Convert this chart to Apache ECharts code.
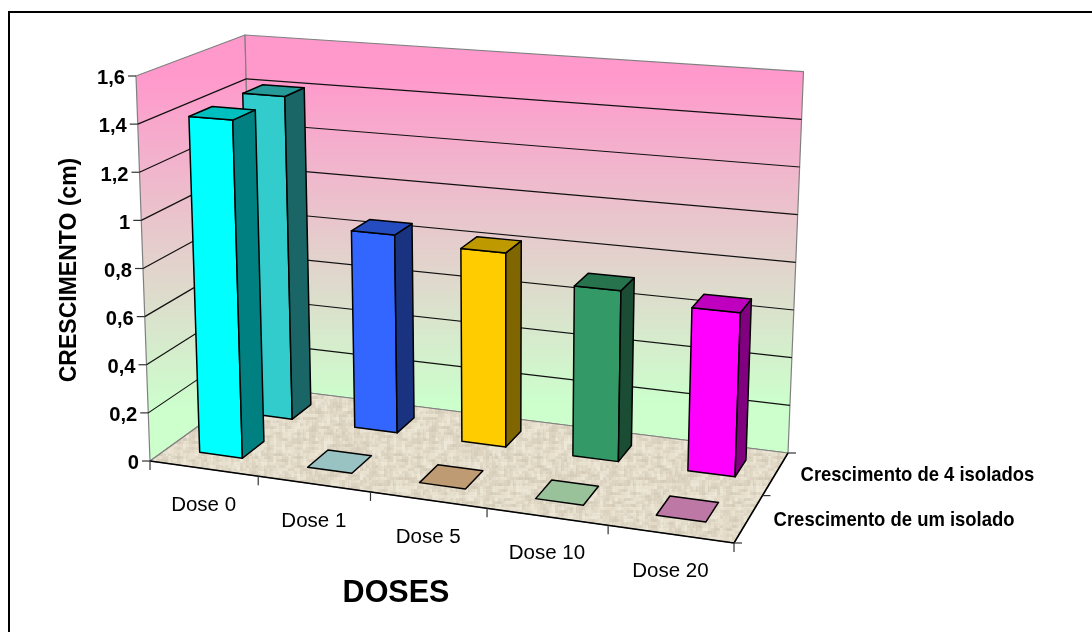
<!DOCTYPE html>
<html><head><meta charset="utf-8">
<style>html,body{margin:0;padding:0;background:#fff}#c{width:1092px;height:632px}</style>
<script src="https://cdn.jsdelivr.net/npm/echarts@6/dist/echarts.min.js"></script>
</head><body><div id="c"></div>
<script>
const doses = ['Dose 0','Dose 1','Dose 5','Dose 10','Dose 20'];
const seriesNames = ['Crescimento de um isolado','Crescimento de 4 isolados'];
const valuesOne = [1.41,0,0,0,0];
const valuesFour = [1.41,0.85,0.82,0.71,0.67];
const yTicks = [0,0.2,0.4,0.6,0.8,1,1.2,1.4,1.6];
const faceOne = ['#00FFFF','#99C3C3','#BF9B73','#99C29A','#BD78A5'];
const faceFour = ['#33CCCC','#3366FF','#FFCC00','#339966','#FF00FF'];

// 3D box of the chart projected on the page
const FL=[150,461],FR=[734,543],BR=[788,453],BL=[254,386];
const TFL=[136,76],TBR=[803.5,71.7],TBL=[245,35];
const GRID={left:100,top:40,width:600,height:400};
const cross=(a,b)=>[a[1]*b[2]-a[2]*b[1],a[2]*b[0]-a[0]*b[2],a[0]*b[1]-a[1]*b[0]];
const H=p=>[p[0],p[1],1];
const meet=(a,b,c,d)=>cross(cross(H(a),H(b)),cross(H(c),H(d)));
const V1=meet(FL,FR,BL,BR), V2=meet(FL,BL,FR,BR);
function meetV(p,v,q,w){const r=cross(cross(H(p),v),cross(H(q),w));return [r[0]/r[2],r[1]/r[2]];}
const TFR=meetV(TFL,V1,TBR,V2);

function quad(a,b,c,d){ // unit square -> quad (0,0)=a (1,0)=b (1,1)=c (0,1)=d
  const dx1=b[0]-c[0],dx2=d[0]-c[0],sx=a[0]-b[0]+c[0]-d[0];
  const dy1=b[1]-c[1],dy2=d[1]-c[1],sy=a[1]-b[1]+c[1]-d[1];
  const det=dx1*dy2-dx2*dy1;
  const g=(sx*dy2-dx2*sy)/det,h=(dx1*sy-sx*dy1)/det;
  const A=b[0]-a[0]+g*b[0],B=d[0]-a[0]+h*d[0],D=b[1]-a[1]+g*b[1],E=d[1]-a[1]+h*d[1];
  return (u,v)=>{const w=g*u+h*v+1;return [(A*u+B*v+a[0])/w,(D*u+E*v+a[1])/w];};
}
const floorQ=quad(FL,FR,BR,BL), topQ=quad(TFL,TFR,TBR,TBL);
function P(u,d,h){const a=floorQ(u,d),b=topQ(u,d);return [a[0]+(b[0]-a[0])*h,a[1]+(b[1]-a[1])*h];}
function norm(api,cat,val){ // library scales -> box fractions
  const p=api.coord([cat,val]);
  return [(p[0]-GRID.left)/GRID.width,(GRID.top+GRID.height-p[1])/GRID.height];
}
const INK='#000';
function poly(pts,fill,stroke,lw){return {type:'polygon',shape:{points:pts},style:{fill:fill,stroke:stroke||INK,lineWidth:lw==null?1.5:lw,lineJoin:'round'},silent:true};}
function line(a,b,c,lw){return {type:'line',shape:{x1:a[0],y1:a[1],x2:b[0],y2:b[1]},style:{stroke:c,lineWidth:lw},silent:true};}
function text(x,y,s,font,align,rot,sx){return {type:'text',x:x,y:y,rotation:rot||0,scaleX:sx||1,style:{text:s,font:font,fill:'#000',align:align,verticalAlign:'middle'},silent:true};}
function shade(hex,f){const n=parseInt(hex.slice(1),16);const c=[n>>16,(n>>8)&255,n&255].map(v=>Math.round(v*f));return 'rgb('+c.join(',')+')';}

// woven paper look of the floor
function floorPattern(){
  const c=document.createElement('canvas');c.width=c.height=120;
  const g=c.getContext('2d');g.fillStyle='#E3DAC8';g.fillRect(0,0,120,120);
  for(let y=0;y<120;y+=3){for(let x=0;x<120;x+=3){
    const s=Math.sin(x*12.9898+y*78.233)*43758.5453;const f=s-Math.floor(s);
    g.fillStyle=f<0.33?'rgba(196,185,163,0.22)':(f>0.66?'rgba(246,241,230,0.3)':'rgba(0,0,0,0)');
    g.fillRect(x,y,f<0.5?7:3,f<0.5?3:7);
  }}
  return c;
}
const floorImg=floorPattern();

function backdrop(params,api){
  const wallFill=new echarts.graphic.LinearGradient(0,0,0,1,[{offset:0,color:'#FF99CC'},{offset:0.1,color:'#FF99CC'},{offset:0.88,color:'#CCFFCC'},{offset:1,color:'#CCFFCC'}]);
  const kids=[];
  kids.push({type:'rect',shape:{x:9,y:12,width:1200,height:800},style:{fill:'#fff',stroke:'#000',lineWidth:2},silent:true});
  kids.push(poly([P(0,0,0),P(0,1,0),P(0,1,1),P(0,0,1)],wallFill,'#808080',1.2));
  kids.push(poly([P(0,1,0),P(1,1,0),P(1,1,1),P(0,1,1)],wallFill,'#808080',1.2));
  kids.push(poly([P(0,0,0),P(1,0,0),P(1,1,0),P(0,1,0)],{image:floorImg,repeat:'repeat'},'#808080',1.2));
  kids.push(line(P(0,0,0),P(1,0,0),'#000',1.5));
  kids.push(line(P(1,0,0),P(1,1,0),'#000',1.5));
  yTicks.forEach(t=>{
    const h=norm(api,0,t)[1];
    if(t>0&&t<1.6){
      kids.push(line(P(0,0,h),P(0,1,h),'#111',1.2));
      kids.push(line(P(0,1,h),P(1,1,h),'#111',1.2));
    }
    const a=P(0,0,h);
    kids.push(line([a[0]-8,a[1]],a,'#333',1.2));
    kids.push(text(a[0]-11,a[1]+2.5,String(t).replace('.',','),'bold 21px "Liberation Sans"','right',0,0.96));
  });
  for(let i=0;i<=doses.length;i++){
    const a=P(i/doses.length,0,0);
    kids.push(line(a,[a[0],a[1]+9],'#333',1.2));
  }
  [0,0.5,1].forEach(d=>{const a=P(1,d,0);kids.push(line(a,[a[0]+8,a[1]],'#333',1.2));});
  doses.forEach((n,i)=>{
    const a=P((i+0.5)/doses.length,0,0);
    kids.push(text(a[0],a[1]+37,n,'20.5px "Liberation Sans"','center'));
  });
  [[0.25,seriesNames[0]],[0.75,seriesNames[1]]].forEach(l=>{
    const a=P(1,l[0],0);
    kids.push(text(a[0]+25,a[1]+1.5,l[1],'bold 20.5px "Liberation Sans"','left',0,0.9));
  });
  kids.push(text(69.5,270,'CRESCIMENTO (cm)','bold 23px "Liberation Sans"','center',Math.PI/2));
  kids.push(text(396,594,'DOSES','bold 30.5px "Liberation Sans"','center'));
  return {type:'group',children:kids};
}

function bar(dRange){
  return function(params,api){
    const cat=api.value(0),val=api.value(1),color=api.style().fill;
    const uc=norm(api,cat,0)[0],h=norm(api,cat,val)[1];
    const hw=0.04,u0=uc-hw,u1=uc+hw,d0=dRange[0],d1=dRange[1];
    if(val<=0.0001) return poly([P(u0,d0,0),P(u1,d0,0),P(u1,d1,0),P(u0,d1,0)],color);
    return {type:'group',children:[
      poly([P(u0,d0,0),P(u1,d0,0),P(u1,d0,h),P(u0,d0,h)],color),
      poly([P(u1,d0,0),P(u1,d1,0),P(u1,d1,h),P(u1,d0,h)],shade(color,0.5)),
      poly([P(u0,d0,h),P(u1,d0,h),P(u1,d1,h),P(u0,d1,h)],shade(color,0.75))
    ]};
  };
}
function barData(vals,cols){return vals.map((v,i)=>({value:[i,v],itemStyle:{color:cols[i]}}));}
const chart=echarts.init(document.getElementById('c'),null,{renderer:'canvas'});
chart.setOption({
  animation:false,backgroundColor:'#fff',
  grid:{left:GRID.left,top:GRID.top,width:GRID.width,height:GRID.height},
  xAxis:{type:'category',data:doses,show:false},
  yAxis:{type:'value',min:0,max:1.6,interval:0.2,show:false},
  series:[
    {type:'custom',name:'backdrop',coordinateSystem:'cartesian2d',renderItem:backdrop,data:[[0,0]],encode:{x:0,y:1},clip:false,z:1,silent:true},
    {type:'custom',name:seriesNames[1],coordinateSystem:'cartesian2d',renderItem:bar([0.66,0.86]),data:barData(valuesFour,faceFour),encode:{x:0,y:1},clip:false,z:2,silent:true},
    {type:'custom',name:seriesNames[0],coordinateSystem:'cartesian2d',renderItem:bar([0.16,0.37]),data:barData(valuesOne,faceOne),encode:{x:0,y:1},clip:false,z:3,silent:true}
  ]
});
</script></body></html>
